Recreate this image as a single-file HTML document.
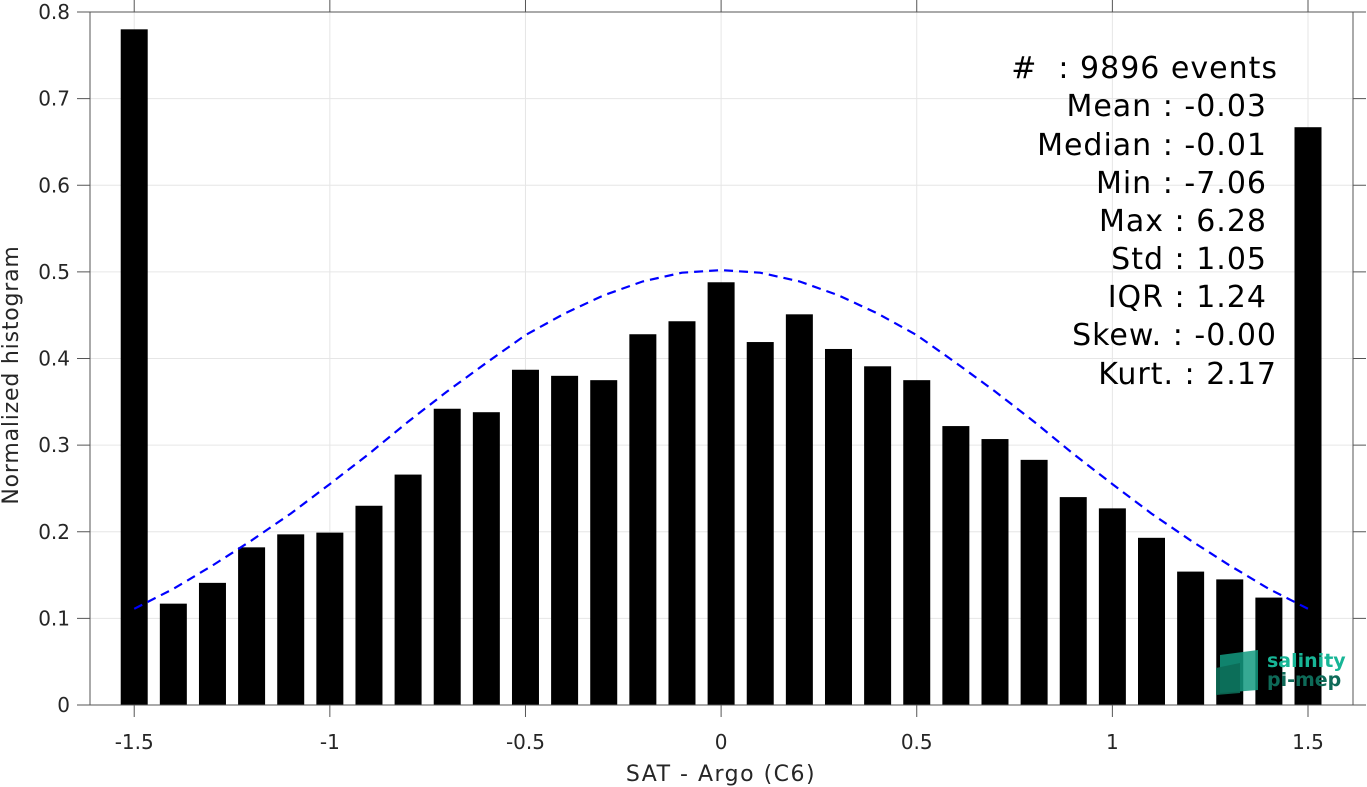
<!DOCTYPE html>
<html><head><meta charset="utf-8"><style>
html,body{margin:0;padding:0;background:#fff;}
svg{display:block;font-family:"DejaVu Sans","Liberation Sans",sans-serif;}
text{white-space:pre;}
</style></head><body>
<svg id="chart" width="1367" height="787" viewBox="0 0 1367 787">
<g id="grid"></g>
<g id="bars"></g>
<path id="fit" fill="none" stroke="#0000ff" stroke-width="2.2" stroke-dasharray="9,6"/>
<rect x="90" y="12" width="1263" height="693" fill="none" stroke="#555" stroke-width="1"/>
<g id="axes" font-size="20" fill="#262626"></g>
<text x="721" y="781" text-anchor="middle" font-size="22" letter-spacing="1.5" fill="#262626">SAT - Argo (C6)</text>
<text transform="translate(18,375) rotate(-90)" text-anchor="middle" font-size="22" letter-spacing="0.8" fill="#262626">Normalized histogram</text>
<g font-size="30" letter-spacing="1" fill="#000" text-anchor="end">
<text x="1278" y="78" xml:space="preserve">#  : 9896 events</text>
<text x="1267" y="116">Mean : -0.03</text>
<text x="1267" y="155">Median : -0.01</text>
<text x="1267" y="193">Min : -7.06</text>
<text x="1267" y="231">Max : 6.28</text>
<text x="1267" y="269">Std : 1.05</text>
<text x="1267" y="307">IQR : 1.24</text>
<text x="1277" y="345">Skew. : -0.00</text>
<text x="1277" y="384">Kurt. : 2.17</text>
</g>
<g>
<polygon points="1220,655 1258,650 1258,690 1220,693" fill="#139a80" opacity="0.85"/>
<polygon points="1216,668 1240,663 1240,693 1216,695" fill="#0c6b57" opacity="0.9"/>
<text x="1267" y="667" font-size="19" font-weight="bold" fill="#17b596">salinity</text>
<text x="1267" y="686" font-size="19" font-weight="bold" fill="#0e6a58">pi-mep</text>
</g>
</svg>
<script>
const binCenters=[-1.5,-1.4,-1.3,-1.2,-1.1,-1.0,-0.9,-0.8,-0.7,-0.6,-0.5,-0.4,-0.3,-0.2,-0.1,0,0.1,0.2,0.3,0.4,0.5,0.6,0.7,0.8,0.9,1.0,1.1,1.2,1.3,1.4,1.5];
const binValues=[0.780,0.117,0.141,0.182,0.197,0.199,0.230,0.266,0.342,0.338,0.387,0.380,0.375,0.428,0.443,0.488,0.419,0.451,0.411,0.391,0.375,0.322,0.307,0.283,0.240,0.227,0.193,0.154,0.145,0.124,0.667];
const fitX=[-1.5,-1.4,-1.3,-1.2,-1.1,-1.0,-0.9,-0.8,-0.7,-0.6,-0.5,-0.4,-0.3,-0.2,-0.1,0,0.1,0.2,0.3,0.4,0.5,0.6,0.7,0.8,0.9,1.0,1.1,1.2,1.3,1.4,1.5];
const fitY=[0.111,0.134,0.161,0.190,0.221,0.255,0.290,0.327,0.362,0.395,0.427,0.452,0.473,0.489,0.499,0.502,0.499,0.489,0.473,0.452,0.427,0.395,0.362,0.327,0.290,0.255,0.221,0.190,0.161,0.134,0.111];
const xTicks=[-1.5,-1,-0.5,0,0.5,1,1.5];
const xTickLabels=["-1.5","-1","-0.5","0","0.5","1","1.5"];
const yTicks=[0,0.1,0.2,0.3,0.4,0.5,0.6,0.7,0.8];
const yTickLabels=["0","0.1","0.2","0.3","0.4","0.5","0.6","0.7","0.8"];
const NS="http://www.w3.org/2000/svg";
const X0=90,X1=1353,Y0=705,Y1=12,xmin=-1.613,xmax=1.615,ymax=0.8;
const sx=v=>X0+(v-xmin)/(xmax-xmin)*(X1-X0);
const sy=v=>Y0-v/ymax*(Y0-Y1);
function mk(t,a,p){const e=document.createElementNS(NS,t);for(const k in a)e.setAttribute(k,a[k]);p.appendChild(e);return e;}
const grid=document.getElementById('grid'),axes=document.getElementById('axes'),bars=document.getElementById('bars');
xTicks.forEach((v,i)=>{
  const g=mk('line',{x1:sx(v),x2:sx(v),y1:Y1,y2:Y0,stroke:'#e6e6e6','stroke-width':1},grid);
  
  
  const t=mk('line',{x1:sx(v),x2:sx(v),y1:Y0,y2:Y0+12,stroke:'#555'},axes);
  
  
  const t2=mk('line',{x1:sx(v),x2:sx(v),y1:Y1,y2:Y1-12,stroke:'#555'},axes);
  
  
  const l=mk('text',{x:sx(v),y:749,'text-anchor':'middle'},axes);l.textContent=xTickLabels[i];
  
  
});
yTicks.forEach((v,i)=>{
  const g=mk('line',{x1:X0,x2:X1,y1:sy(v),y2:sy(v),stroke:'#e6e6e6','stroke-width':1},grid);
  
  
  const t=mk('line',{x1:X0-13,x2:X0,y1:sy(v),y2:sy(v),stroke:'#555'},axes);
  
  
  const t2=mk('line',{x1:X1,x2:X1+13,y1:sy(v),y2:sy(v),stroke:'#555'},axes);
  
  
  const l=mk('text',{x:70,y:sy(v)+7,'text-anchor':'end'},axes);l.textContent=yTickLabels[i];
  
  
});
const bw=0.069;
binCenters.forEach((c,i)=>{
  const r=mk('rect',{x:sx(c-bw/2),y:sy(binValues[i]),width:sx(c+bw/2)-sx(c-bw/2),height:Y0-sy(binValues[i]),fill:'#000'},bars);
  
  
});
document.getElementById('fit').setAttribute('d',fitX.map((x,i)=>(i?'L':'M')+sx(x).toFixed(1)+','+sy(fitY[i]).toFixed(1)).join(' '));
</script>
</body></html>
